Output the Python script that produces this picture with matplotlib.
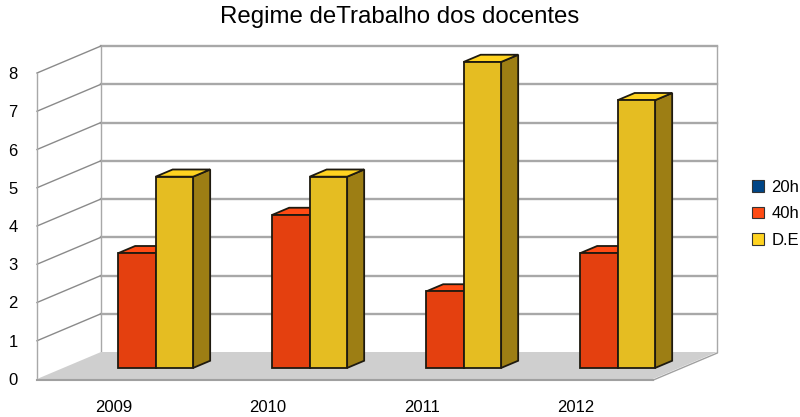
import matplotlib
matplotlib.use("Agg")
import matplotlib.pyplot as plt
from matplotlib.patches import Polygon, Patch

# Dados
anos = ['2009', '2010', '2011', '2012']
series = ['20h', '40h', 'D.E']
v_20h = [0, 0, 0, 0]
v_40h = [3, 4, 2, 3]
v_de = [5, 5, 8, 7]
valores = [v_20h, v_40h, v_de]

# cores: frente, topo, lado
cores = {
    '20h': ('#003c76', '#004586', '#002a54'),
    '40h': ('#e4400f', '#ff4b14', '#a02e0a'),
    'D.E': ('#e5bd22', '#ffd320', '#9d7e14'),
}

plt.rcParams['font.family'] = ['Liberation Sans', 'DejaVu Sans']

fig = plt.figure(figsize=(8, 4.17), dpi=100)
ax = fig.add_axes([37 / 800, 38 / 417, 616 / 800, 306 / 417])
ax.set_xlim(0, 4)
ax.set_ylim(0, 8)
ax.set_facecolor('none')
for sp in ax.spines.values():
    sp.set_visible(False)

# deslocamento obliquo da profundidade (em unidades dos dados)
DX = 64 / 154
DY = 27 / 38.25


def proj(x, y, d):
    return (x + d * DX, y + d * DY)


def poly(pts, **kw):
    p = Polygon([proj(*q) for q in pts], closed=True, clip_on=False, **kw)
    ax.add_patch(p)


ymax = 8
ncat = len(anos)
grid_c = '#a8a8a8'

# paredes
poly([(0, 0, 1), (ncat, 0, 1), (ncat, ymax, 1), (0, ymax, 1)], facecolor='white', edgecolor='none', zorder=1)
poly([(0, 0, 0), (0, 0, 1), (0, ymax, 1), (0, ymax, 0)], facecolor='white', edgecolor='none', zorder=1)

for v in range(1, ymax + 1):
    xa, ya = proj(0, v, 1)
    xb, yb = proj(ncat, v, 1)
    ax.plot([xa, xb], [ya, yb], color=grid_c, lw=1.7, clip_on=False, zorder=2)
    xc, yc = proj(0, v, 0)
    ax.plot([xc, xa], [yc, ya], color='#8a8a8a', lw=1.0, clip_on=False, zorder=2)

for x, d in [(0, 0), (0, 1), (ncat, 1)]:
    xa, ya = proj(x, 0, d)
    xb, yb = proj(x, ymax, d)
    ax.plot([xa, xb], [ya, yb], color=grid_c, lw=1.0, clip_on=False, zorder=2)

# chao
poly([(0, 0, 0), (ncat, 0, 0), (ncat, 0, 1), (0, 0, 1)], facecolor='#cfcfcf', edgecolor='none', zorder=3)
xa, ya = proj(0, 0, 0)
xb, yb = proj(ncat, 0, 0)
ax.plot([xa, xb], [ya - 0.03, yb - 0.03], color='#a0a0a0', lw=1.5, clip_on=False, zorder=3)
xc, yc = proj(ncat, 0, 1)
ax.plot([xb, xc], [yb - 0.03, yc - 0.03], color='#a0a0a0', lw=1.0, clip_on=False, zorder=3)

# barras
W = 0.2435
G0 = 0.113
d0, d1 = 0.41, 0.676
ec = '#1e1a10'
z = 4
for i in range(ncat):
    for s, nome in enumerate(series):
        h = valores[s][i]
        if h == 0:
            continue
        x0 = i + G0 + s * W
        x1 = x0 + W
        fr, tp, sd = cores[nome]
        poly([(x1, 0, d0), (x1, 0, d1), (x1, h, d1), (x1, h, d0)], facecolor=sd, edgecolor=ec, lw=1.3, zorder=z)
        poly([(x0, h, d0), (x1, h, d0), (x1, h, d1), (x0, h, d1)], facecolor=tp, edgecolor=ec, lw=1.3, zorder=z)
        poly([(x0, 0, d0), (x1, 0, d0), (x1, h, d0), (x0, h, d0)], facecolor=fr, edgecolor=ec, lw=1.3, zorder=z)
        z += 1

ax.set_yticks(range(0, ymax + 1))
ax.set_xticks([i + 0.5 for i in range(ncat)])
ax.set_xticklabels(anos)
ax.tick_params(length=0, labelsize=12, colors='black')
ax.tick_params(axis='y', pad=14)
ax.tick_params(axis='x', pad=15)

fig.suptitle('Regime deTrabalho dos docentes', fontsize=17.3, y=0.985, va='top')

handles = [Patch(facecolor=cores[n][1], edgecolor='#333333', lw=0.8, label=n) for n in series]
fig.legend(handles=handles, loc='upper left', bbox_to_anchor=(752 / 800, 1 - 180 / 417),
           frameon=False, fontsize=12, handlelength=0.72, handleheight=0.72,
           handletextpad=0.45, labelspacing=0.68, borderpad=0, borderaxespad=0)

fig.savefig('out.png', dpi=100)
